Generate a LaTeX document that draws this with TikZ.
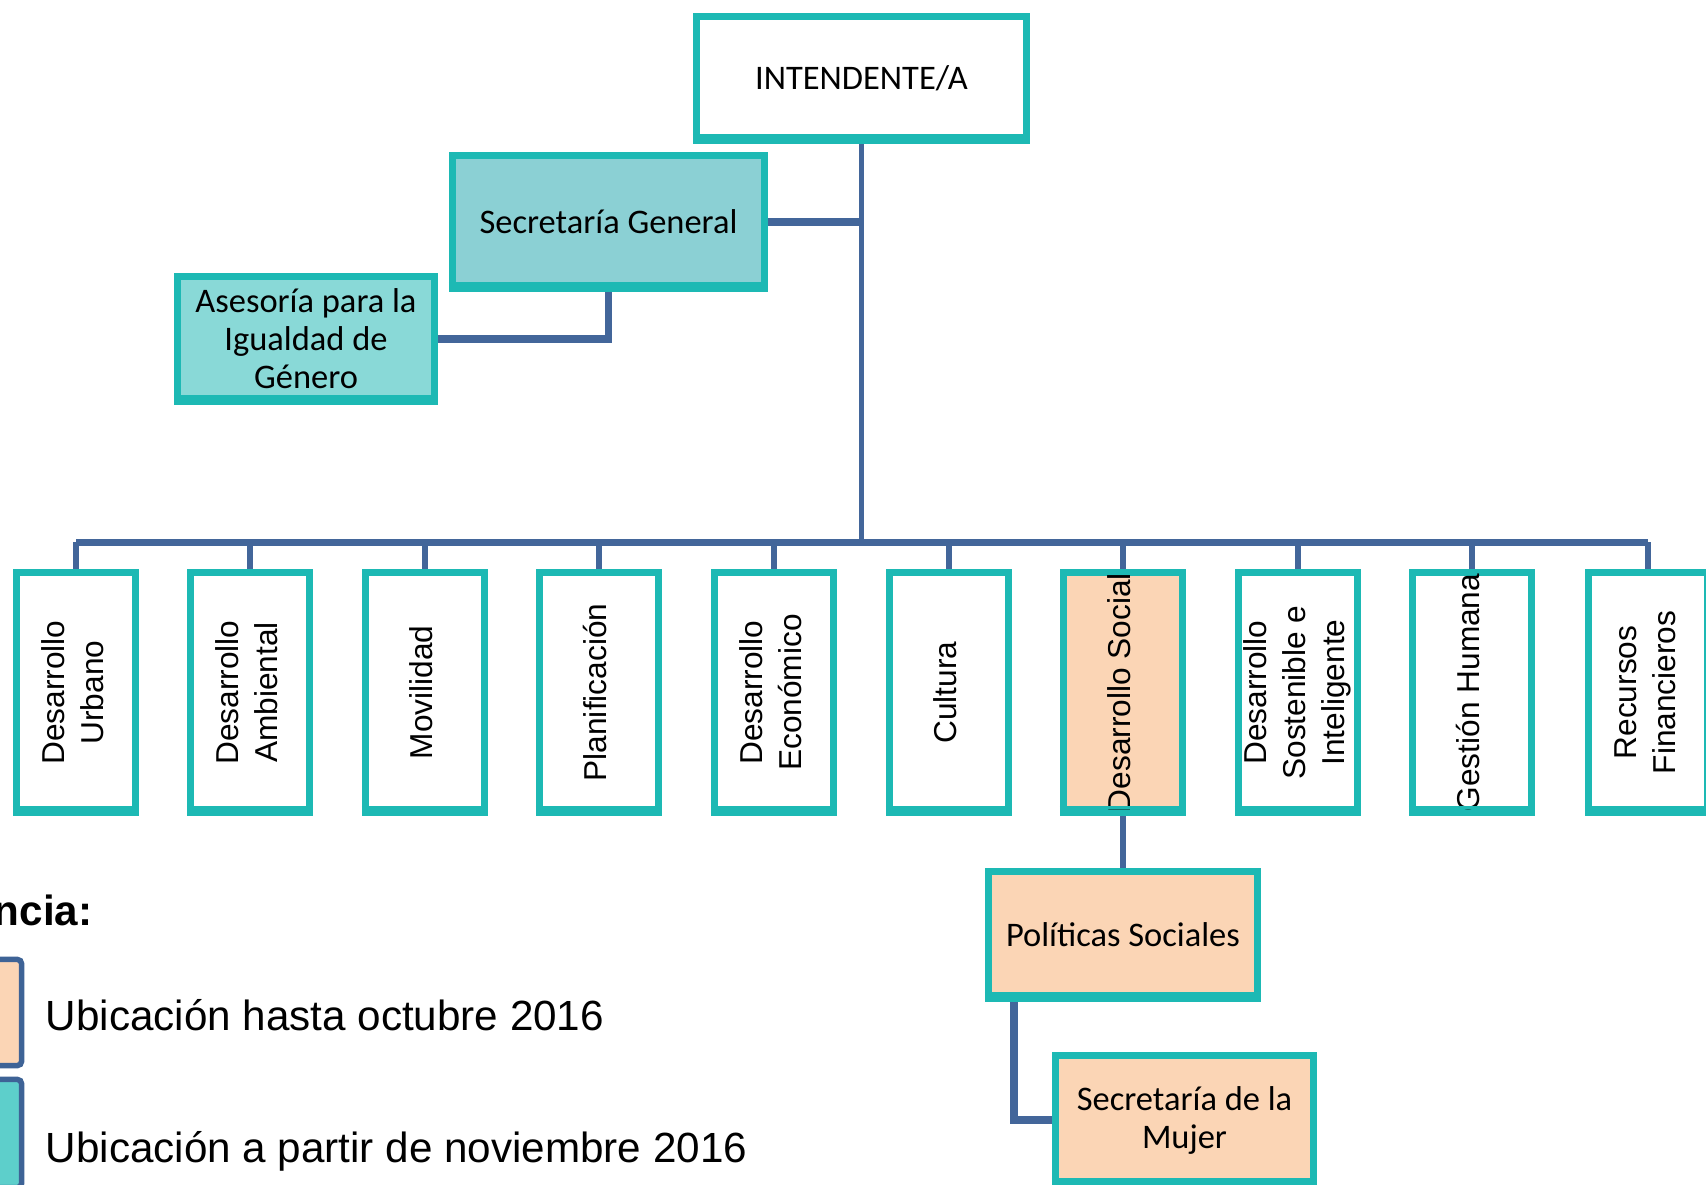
\documentclass[tikz,border=0pt]{standalone}
\usepackage{fontspec}
\usepackage{graphicx}
\newfontfamily\calib{Carlito}
\newfontfamily\arialf{Liberation Sans}
\usetikzlibrary{backgrounds}
\definecolor{tealb}{HTML}{1DB9B4}
\definecolor{conn}{HTML}{43669A}
\definecolor{peach}{HTML}{FBD5B5}
\definecolor{sgfill}{HTML}{8BD0D4}
\definecolor{asfill}{HTML}{89D9D7}
\definecolor{legteal}{HTML}{5DCFCB}
\definecolor{legblue}{HTML}{3E6396}
\newcommand\vt[1]{\rotatebox{90}{\begin{tabular}{@{}c@{}}#1\end{tabular}}}
\tikzset{
  orgbox/.style={draw=tealb, line width=0.07cm, fill=white, inner sep=0pt,
    font=\calib\fontsize{9.8}{10.8}\selectfont, align=center},
  vbox/.style={orgbox, minimum width=1.19cm, minimum height=2.40cm,
    font=\arialf\fontsize{9}{11.1}\selectfont},
  link/.style={draw=conn, line width=0.055cm},
  thicklink/.style={draw=conn, line width=0.075cm},
  busline/.style={draw=conn, line width=0.07cm},
  legbox/.style={draw=legblue, line width=0.055cm, rounded corners=0.04cm,
    minimum width=0.99cm, inner sep=0pt},
  legtext/.style={font=\arialf\fontsize{12}{14}\selectfont, inner sep=0pt, anchor=base west},
  bottomband/.style={draw=tealb, line width=0.03cm}
}
\begin{document}
\begin{tikzpicture}[x=0.01cm, y=-0.01cm]
\useasboundingbox (0,0) rectangle (1706,1185);
% top level
\node[orgbox, minimum width=3.30cm, minimum height=1.24cm] (int) at (861.5,78.5) {INTENDENTE/A};
\node[orgbox, fill=sgfill, minimum width=3.12cm, minimum height=1.33cm] (sg) at (608.5,222) {Secretaría General};
\node[orgbox, fill=asfill, minimum width=2.57cm, minimum height=1.25cm] (as) at (306,339) {Asesoría para la\\Igualdad de\\Género};
% departments
\node[vbox] (b1) at (76,692.5) {\vt{Desarrollo\\Urbano}};
\node[vbox] (b2) at (250,692.5) {\vt{Desarrollo\\Ambiental}};
\node[vbox] (b3) at (425,692.5) {\vt{Movilidad}};
\node[vbox] (b4) at (599,692.5) {\vt{Planificación}};
\node[vbox] (b5) at (774,692.5) {\vt{Desarrollo\\Económico}};
\node[vbox] (b6) at (949,692.5) {\vt{Cultura}};
\node[vbox, fill=peach] (b7) at (1123,692.5) {\vt{Desarrollo Social}};
\node[vbox] (b8) at (1298,692.5) {\vt{Desarrollo\\Sostenible e\\Inteligente}};
\node[vbox] (b9) at (1472,692.5) {\vt{Gestión Humana}};
\node[vbox] (b10) at (1648,692.5) {\vt{Recursos\\Financieros}};
% lower
\node[orgbox, fill=peach, minimum width=2.69cm, minimum height=1.27cm] (ps) at (1123,935) {Políticas Sociales};
\node[orgbox, fill=peach, minimum width=2.58cm, minimum height=1.29cm] (mu) at (1184.5,1120) {Secretaría de la\\Mujer};
% bottom bands
\foreach \n in {int,sg,as,b1,b2,b3,b4,b5,b6,b7,b8,b9,b10,ps,mu}
  \draw[bottomband] ([yshift=0.085cm]\n.south west) -- ([yshift=0.085cm]\n.south east);
% legend
\node[anchor=base east, inner sep=0pt, font=\arialf\bfseries\fontsize{12}{14}\selectfont] (legt) at (93,925) {Referencia:};
\node[legbox, fill=peach, minimum height=1.06cm] (leg1) at (-28,1012.5) {};
\node[legbox, fill=legteal, minimum height=1.08cm] (leg2) at (-28,1133.5) {};
\node[legtext] (l1) at (45,1030) {Ubicación hasta octubre 2016};
\node[legtext] (l2) at (45,1162) {Ubicación a partir de noviembre 2016};
% connectors
\coordinate (busL) at (76,542);
\coordinate (busR) at (1648,542);
\coordinate (busC) at (861.5,542);
\begin{pgfonlayer}{background}
\draw[link] (int.south) -- (busC);
\draw[busline] (busL) -- (busR);
\draw[thicklink] (sg.east) -- (sg.east -| int.south);
\draw[thicklink] (sg.south) |- (as.east);
\foreach \n in {b1,b2,b3,b4,b5,b6,b7,b8,b9,b10}
  \draw[link] (\n.north) -- (\n.north |- busC);
\draw[link] (b7.south) -- (ps.north);
\draw[thicklink] ([xshift=0.29cm]ps.south west) |- (mu.west);
\end{pgfonlayer}
\end{tikzpicture}
\end{document}
